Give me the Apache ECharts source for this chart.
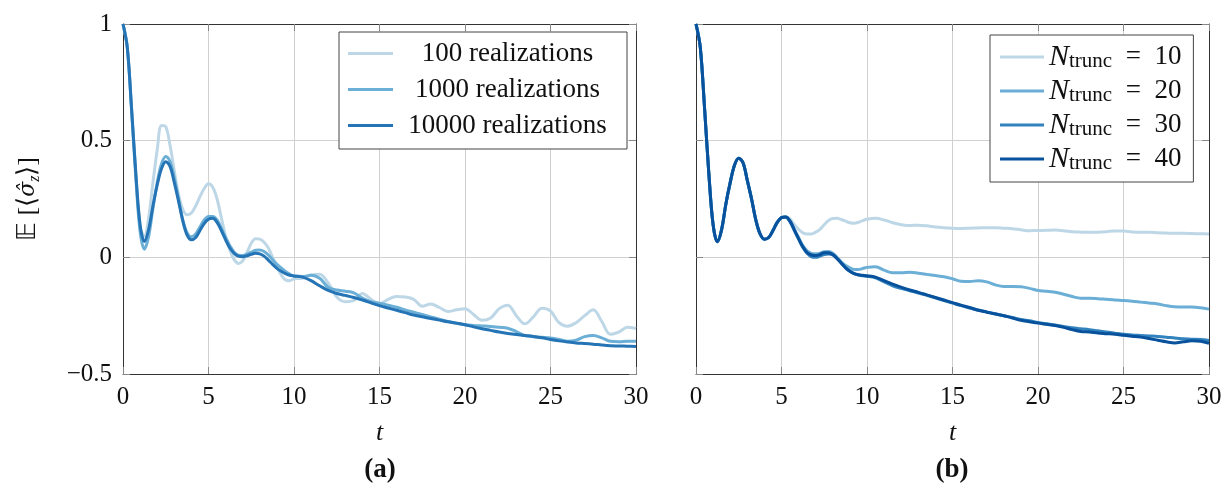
<!DOCTYPE html>
<html><head><meta charset="utf-8">
<script src="https://cdn.jsdelivr.net/npm/echarts@6/dist/echarts.min.js"></script>
<style>html,body{margin:0;padding:0;background:#fff}#c{width:1226px;height:491px}</style>
</head><body><div id="c"></div>
<script>
// time samples (t)
const times = [0,0.25,0.5,0.75,1,1.25,1.5,1.75,2,2.25,2.5,2.75,3,3.25,3.5,3.75,4,4.25,4.5,4.75,5,5.25,5.5,5.75,6,6.25,6.5,6.75,7,7.25,7.5,7.75,8,8.25,8.5,8.75,9,9.25,9.5,9.75,10,
  10.5,11,11.5,12,12.5,13,13.5,14,14.5,15,15.5,16,16.5,17,17.5,18,18.5,19,19.5,20,20.5,21,21.5,22,22.5,23,23.5,24,24.5,25,25.5,26,26.5,27,27.5,28,28.5,29,29.5,30];

// axis ticks
const xTicks = [0,5,10,15,20,25,30];
const yTicks = [-0.5,0,0.5,1];

// panel (a): realizations
const realNames = ['100 realizations','1000 realizations','10000 realizations'];
const real100 = [1,0.9,0.64,0.36,0.13,0.09,0.17,0.32,0.46,0.565,0.56,0.48,0.37,0.27,0.205,0.182,0.19,0.22,0.26,0.295,0.315,0.3,0.25,0.17,0.09,0.03,-0.01,-0.026,-0.015,0.02,0.06,0.08,0.078,0.065,0.04,0,-0.04,-0.075,-0.097,-0.1,-0.092,
  -0.09,-0.075,-0.072,-0.11,-0.17,-0.19,-0.185,-0.155,-0.18,-0.2,-0.18,-0.168,-0.17,-0.18,-0.21,-0.2,-0.215,-0.232,-0.225,-0.22,-0.245,-0.27,-0.26,-0.22,-0.205,-0.25,-0.285,-0.255,-0.218,-0.23,-0.28,-0.295,-0.28,-0.25,-0.225,-0.275,-0.33,-0.32,-0.3,-0.305];
const real1000 = [1,0.9,0.63,0.34,0.11,0.035,0.09,0.21,0.32,0.4,0.432,0.41,0.34,0.25,0.16,0.105,0.088,0.1,0.13,0.16,0.175,0.175,0.16,0.125,0.085,0.05,0.022,0.009,0.008,0.014,0.022,0.03,0.031,0.025,0.01,-0.01,-0.03,-0.045,-0.06,-0.072,-0.08,
  -0.082,-0.077,-0.09,-0.128,-0.14,-0.145,-0.152,-0.175,-0.19,-0.197,-0.205,-0.214,-0.225,-0.235,-0.245,-0.255,-0.265,-0.275,-0.282,-0.289,-0.292,-0.294,-0.296,-0.3,-0.304,-0.318,-0.335,-0.34,-0.343,-0.346,-0.352,-0.36,-0.355,-0.34,-0.335,-0.345,-0.36,-0.362,-0.36,-0.36];
const real10000 = [1,0.9,0.64,0.36,0.14,0.068,0.12,0.22,0.31,0.38,0.41,0.39,0.32,0.24,0.155,0.095,0.075,0.085,0.115,0.145,0.163,0.167,0.15,0.115,0.075,0.04,0.017,0.005,0.003,0.007,0.013,0.017,0.015,0.005,-0.012,-0.03,-0.047,-0.06,-0.07,-0.077,-0.08,
  -0.085,-0.1,-0.122,-0.142,-0.155,-0.163,-0.172,-0.183,-0.195,-0.207,-0.217,-0.227,-0.237,-0.247,-0.255,-0.262,-0.269,-0.276,-0.282,-0.289,-0.298,-0.306,-0.313,-0.32,-0.326,-0.331,-0.335,-0.339,-0.345,-0.352,-0.358,-0.363,-0.367,-0.369,-0.372,-0.376,-0.379,-0.38,-0.381,-0.382];

// panel (b): truncation
const truncLevels = [10,20,30,40];
const trunc10 = [1,0.9,0.64,0.36,0.14,0.067,0.12,0.23,0.32,0.395,0.425,0.405,0.33,0.25,0.16,0.1,0.078,0.085,0.115,0.15,0.17,0.173,0.165,0.14,0.12,0.105,0.1,0.1,0.108,0.12,0.14,0.158,0.166,0.167,0.162,0.155,0.148,0.146,0.15,0.157,0.163,
  0.167,0.16,0.148,0.14,0.136,0.138,0.135,0.13,0.127,0.125,0.124,0.125,0.126,0.127,0.127,0.125,0.123,0.118,0.114,0.115,0.116,0.117,0.114,0.11,0.108,0.107,0.108,0.11,0.113,0.113,0.109,0.107,0.107,0.105,0.104,0.103,0.103,0.102,0.101,0.1];
const trunc20 = [1,0.9,0.64,0.36,0.14,0.067,0.12,0.23,0.32,0.395,0.425,0.405,0.33,0.25,0.16,0.1,0.078,0.085,0.115,0.15,0.17,0.173,0.155,0.12,0.085,0.05,0.028,0.017,0.015,0.018,0.024,0.025,0.018,0,-0.02,-0.035,-0.045,-0.052,-0.052,-0.048,-0.043,
  -0.04,-0.055,-0.066,-0.066,-0.064,-0.068,-0.073,-0.078,-0.083,-0.092,-0.103,-0.104,-0.1,-0.105,-0.118,-0.125,-0.125,-0.126,-0.133,-0.142,-0.145,-0.15,-0.158,-0.168,-0.175,-0.175,-0.177,-0.18,-0.183,-0.185,-0.188,-0.192,-0.196,-0.2,-0.207,-0.212,-0.213,-0.213,-0.216,-0.222];
const trunc30 = [1,0.9,0.64,0.36,0.14,0.067,0.12,0.23,0.32,0.395,0.425,0.405,0.33,0.25,0.16,0.1,0.078,0.085,0.115,0.15,0.17,0.173,0.152,0.115,0.078,0.042,0.017,0.002,0,0.005,0.012,0.014,0.01,-0.006,-0.025,-0.045,-0.06,-0.07,-0.076,-0.079,-0.081,
  -0.088,-0.105,-0.122,-0.133,-0.143,-0.153,-0.163,-0.174,-0.185,-0.196,-0.207,-0.217,-0.226,-0.234,-0.242,-0.25,-0.258,-0.266,-0.272,-0.279,-0.285,-0.29,-0.296,-0.302,-0.306,-0.31,-0.315,-0.32,-0.325,-0.33,-0.333,-0.335,-0.337,-0.339,-0.342,-0.346,-0.349,-0.351,-0.352,-0.356];
const trunc40 = [1,0.9,0.64,0.36,0.14,0.067,0.12,0.23,0.32,0.395,0.425,0.405,0.33,0.25,0.16,0.1,0.078,0.085,0.115,0.15,0.17,0.173,0.155,0.118,0.08,0.045,0.02,0.01,0.008,0.012,0.02,0.02,0.012,-0.005,-0.025,-0.045,-0.06,-0.07,-0.075,-0.077,-0.079,
  -0.085,-0.1,-0.115,-0.128,-0.14,-0.15,-0.161,-0.172,-0.183,-0.194,-0.205,-0.215,-0.227,-0.235,-0.243,-0.25,-0.26,-0.27,-0.276,-0.282,-0.287,-0.292,-0.3,-0.31,-0.318,-0.32,-0.324,-0.327,-0.33,-0.334,-0.338,-0.342,-0.348,-0.355,-0.362,-0.367,-0.362,-0.358,-0.36,-0.368];

const realColors = ['#bdd7e7','#6baed6','#2474b6'];
const truncColors = ['#bdd7e7','#6baed6','#3182bd','#08519c'];

const FONT = 'Liberation Serif';
const FS = 25;
const pairs = vals => times.map((t, i) => [t, vals[i]]);
const fmtY = v => v < 0 ? '\u2212' + Math.abs(v) : String(v);

function xAx(gi, bottom) {
  return {
    type: 'value', gridIndex: gi, position: bottom ? 'bottom' : 'top',
    min: xTicks[0], max: xTicks[xTicks.length - 1], interval: 5,
    axisLine: { show: true, onZero: false, lineStyle: { color: '#333', width: 1 } },
    axisTick: { show: true, inside: true, length: 7, lineStyle: { color: '#888' } },
    axisLabel: { show: bottom, fontFamily: FONT, fontSize: FS, color: '#111', margin: 11 },
    splitLine: { show: bottom, lineStyle: { color: '#d0d0d0', width: 1 } },
    name: bottom ? 't' : '', nameLocation: 'middle', nameGap: 46,
    nameTextStyle: { fontFamily: FONT, fontSize: 26, fontStyle: 'italic', color: '#111' }
  };
}
function yAx(gi, left, labels) {
  return {
    type: 'value', gridIndex: gi, position: left ? 'left' : 'right',
    min: yTicks[0], max: yTicks[yTicks.length - 1], interval: 0.5,
    axisLine: { show: true, onZero: false, lineStyle: { color: '#333', width: 1 } },
    axisTick: { show: true, inside: true, length: 7, lineStyle: { color: '#888' } },
    axisLabel: { show: labels, fontFamily: FONT, fontSize: FS, color: '#111', margin: 11, formatter: fmtY },
    splitLine: { show: left, lineStyle: { color: '#d0d0d0', width: 1 } }
  };
}

const yName = {
  name: '{n|\uD835\uDD3C [\u27E8}{s|\u03C3\u0302}{z|z}{n|\u27E9]}',
  nameLocation: 'middle', nameGap: 80, nameRotate: 90,
  nameTextStyle: {
    rich: {
      n: { fontFamily: FONT, fontSize: 26, color: '#111', lineHeight: 30 },
      s: { fontFamily: 'DejaVu Serif', fontSize: 22, fontStyle: 'italic', color: '#111', lineHeight: 30 },
      z: { fontFamily: FONT, fontSize: 16, fontStyle: 'italic', color: '#111', lineHeight: 14, verticalAlign: 'bottom' }
    }
  }
};

const series = [];
[real100, real1000, real10000].forEach((vals, i) => {
  series.push({ name: realNames[i], type: 'line', xAxisIndex: 0, yAxisIndex: 0, data: pairs(vals),
    showSymbol: false, symbol: 'none', smooth: 0.35, color: realColors[i],
    lineStyle: { width: 3, color: realColors[i] } });
});
const truncNames = truncLevels.map(n => 'N_trunc = ' + n);
[trunc10, trunc20, trunc30, trunc40].forEach((vals, i) => {
  series.push({ name: truncNames[i], type: 'line', xAxisIndex: 2, yAxisIndex: 2, data: pairs(vals),
    showSymbol: false, symbol: 'none', smooth: 0.35, color: truncColors[i],
    lineStyle: { width: 3, color: truncColors[i] } });
});

const option = {
  animation: false,
  backgroundColor: '#fff',
  grid: [
    { left: 123, top: 24, width: 513, height: 350 },
    { left: 696, top: 24, width: 513, height: 350 }
  ],
  xAxis: [xAx(0, true), xAx(0, false), xAx(1, true), xAx(1, false)],
  yAxis: [Object.assign(yAx(0, true, true), yName), yAx(0, false, false), yAx(1, true, false), yAx(1, false, false)],
  legend: [
    {
      data: realNames, orient: 'vertical', left: 339, top: 32, selectedMode: false,
      icon: 'rect', itemWidth: 45, itemHeight: 3, itemGap: 9, padding: [8, 10, 10, 9],
      borderColor: '#444', borderWidth: 1, borderRadius: 0, backgroundColor: '#fff',
      formatter: n => '{c|' + n + '}',
      textStyle: { rich: { c: { width: 219, align: 'center', fontFamily: FONT, fontSize: 27, lineHeight: 26, color: '#111' } } }
    },
    {
      data: truncNames, orient: 'vertical', left: 990, top: 35, selectedMode: false,
      icon: 'rect', itemWidth: 44, itemHeight: 3, itemGap: 4, padding: [7, 12, 8, 10],
      borderColor: '#444', borderWidth: 1, borderRadius: 0, backgroundColor: '#fff',
      formatter: n => '{n|N}{s|trunc}{e|\u2002=\u2002' + n.split('= ')[1] + '}',
      textStyle: { rich: {
        n: { fontFamily: FONT, fontSize: 30, fontStyle: 'italic', color: '#111', lineHeight: 30 },
        s: { fontFamily: FONT, fontSize: 21, color: '#111', lineHeight: 17, verticalAlign: 'bottom' },
        e: { fontFamily: FONT, fontSize: 27, color: '#111', lineHeight: 30 }
      } }
    }
  ],
  graphic: [
    { type: 'text', x: 380, y: 470, style: { text: '(a)', align: 'center', verticalAlign: 'middle', font: 'bold 27px "Liberation Serif"', fill: '#111' } },
    { type: 'text', x: 952, y: 470, style: { text: '(b)', align: 'center', verticalAlign: 'middle', font: 'bold 27px "Liberation Serif"', fill: '#111' } }
  ],
  series: series
};
const chart = echarts.init(document.getElementById('c'));
chart.setOption(option);
</script></body></html>
